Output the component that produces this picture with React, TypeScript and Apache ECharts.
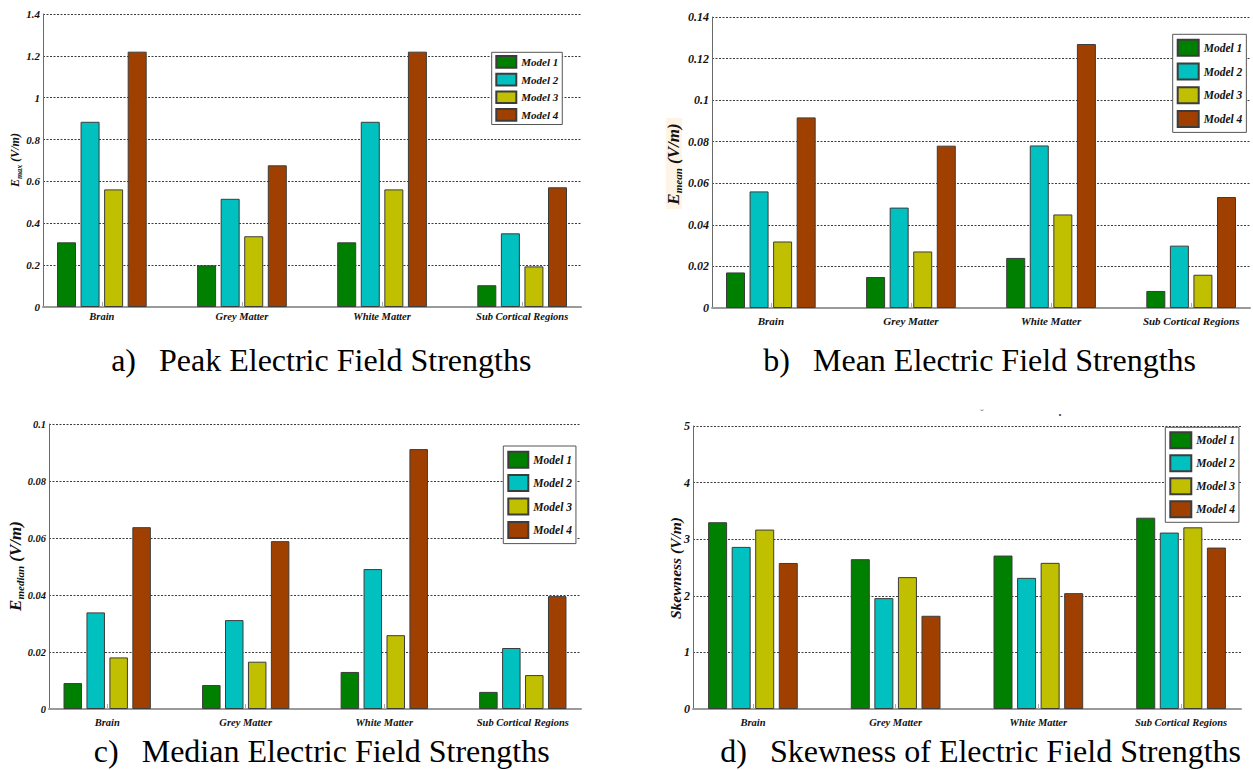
import React, { useEffect, useRef } from "react";
import * as echarts from "echarts";

// ---------- DATA ----------
const categories = ["Brain", "Grey Matter", "White Matter", "Sub Cortical Regions"];
const models = ["Model 1", "Model 2", "Model 3", "Model 4"];
const modelColors = ["#008000", "#00C0C0", "#C0C000", "#A04000"];

// a) Peak electric field strengths (V/m)
const peakModel1 = [0.309, 0.199, 0.309, 0.104];
const peakModel2 = [0.885, 0.517, 0.885, 0.352];
const peakModel3 = [0.562, 0.338, 0.562, 0.194];
const peakModel4 = [1.22, 0.677, 1.22, 0.572];

// b) Mean electric field strengths (V/m)
const meanModel1 = [0.0171, 0.0149, 0.0241, 0.0082];
const meanModel2 = [0.0561, 0.0483, 0.0782, 0.03];
const meanModel3 = [0.032, 0.0272, 0.045, 0.016];
const meanModel4 = [0.0917, 0.0781, 0.127, 0.0534];

// c) Median electric field strengths (V/m)
const medianModel1 = [0.0091, 0.0084, 0.013, 0.006];
const medianModel2 = [0.0339, 0.0312, 0.0491, 0.0214];
const medianModel3 = [0.0181, 0.0166, 0.0259, 0.0119];
const medianModel4 = [0.0638, 0.0589, 0.0912, 0.0396];

// d) Skewness of electric field strengths
const skewModel1 = [3.3, 2.647, 2.711, 3.38];
const skewModel2 = [2.864, 1.959, 2.317, 3.117];
const skewModel3 = [3.17, 2.33, 2.582, 3.21];
const skewModel4 = [2.58, 1.647, 2.047, 2.852];

// y-axis ranges: [min, max, interval]
const peakAxis = [0, 1.4, 0.2];
const meanAxis = [0, 0.14, 0.02];
const medianAxis = [0, 0.1, 0.02];
const skewAxis = [0, 5, 1];

const captionLabels = ["a)", "b)", "c)", "d)"];
const captionTitles = [
  "Peak Electric Field Strengths",
  "Mean Electric Field Strengths",
  "Median Electric Field Strengths",
  "Skewness of Electric Field Strengths",
];

// ---------- LAYOUT ----------
const SERIF = "'Liberation Serif', 'Times New Roman', serif";

const panels = [
  {
    values: [peakModel1, peakModel2, peakModel3, peakModel4],
    axis: peakAxis,
    grid: { left: 43, top: 14, width: 538, height: 293 },
    barWidth: 19,
    yLabelSize: 11,
    catSize: 10.5,
    catMargin: 4,
    legend: { left: 491.7, top: 52.3, itemWidth: 20, itemHeight: 11.7, itemGap: 4, padding: [2.7, 4, 2.7, 3.6], fontSize: 11 },
    yTitle: { x: 15, y: 160, big: 12, small: 8, sub: "max", main: "E" },
    caption: { x: 159, y: 360 },
  },
  {
    values: [meanModel1, meanModel2, meanModel3, meanModel4],
    axis: meanAxis,
    grid: { left: 712, top: 17, width: 538, height: 291 },
    barWidth: 19,
    yLabelSize: 12,
    catSize: 11,
    catMargin: 7.5,
    legend: { left: 1172.7, top: 34.3, itemWidth: 21, itemHeight: 16, itemGap: 5.7, padding: [4.5, 4, 4.5, 4], fontSize: 11.5 },
    yTitle: { x: 673, y: 164, big: 17, small: 11, sub: "mean", main: "E" },
    caption: { x: 813, y: 360 },
  },
  {
    values: [medianModel1, medianModel2, medianModel3, medianModel4],
    axis: medianAxis,
    grid: { left: 49, top: 424, width: 532, height: 285 },
    barWidth: 18.5,
    yLabelSize: 10.5,
    catSize: 10.5,
    catMargin: 7.5,
    legend: { left: 503.3, top: 446, itemWidth: 20, itemHeight: 16, itemGap: 5.4, padding: [4.7, 4, 4.7, 4], fontSize: 11.5 },
    yTitle: { x: 15, y: 566, big: 17, small: 11, sub: "median", main: "E" },
    caption: { x: 141.7, y: 751 },
  },
  {
    values: [skewModel1, skewModel2, skewModel3, skewModel4],
    axis: skewAxis,
    grid: { left: 693, top: 426, width: 548, height: 283 },
    barWidth: 19,
    yLabelSize: 12,
    catSize: 10.5,
    catMargin: 7.5,
    legend: { left: 1165.3, top: 427.3, itemWidth: 21, itemHeight: 16, itemGap: 5, padding: [4, 4, 4, 4], fontSize: 11.5 },
    yTitle: { x: 675, y: 568, big: 15.5, small: 0, sub: "", main: "Skewness" },
    caption: { x: 770, y: 751 },
  },
];

function buildOption() {
  const grids: any[] = [];
  const xAxes: any[] = [];
  const yAxes: any[] = [];
  const series: any[] = [];
  const legends: any[] = [];
  const graphics: any[] = [];
  const catValues = categories.map((_, i) => i + 1);

  panels.forEach((p, pi) => {
    grids.push({ ...p.grid, containLabel: false });
    xAxes.push({
      type: "value",
      gridIndex: pi,
      min: 0.58,
      max: 4.42,
      splitLine: { show: false },
      axisLine: { show: true, lineStyle: { color: "#9a9a9a", width: 2 } },
      axisTick: {
        show: true,
        inside: true,
        length: 5,
        customValues: catValues,
        lineStyle: { color: "#aaaaaa", width: 1 },
      },
      axisLabel: {
        customValues: catValues,
        formatter: (v: number) => categories[Math.round(v) - 1] ?? "",
        fontFamily: SERIF,
        fontStyle: "italic",
        fontWeight: "bold",
        fontSize: p.catSize,
        color: "#111",
        margin: p.catMargin,
      },
    });
    yAxes.push({
      type: "value",
      gridIndex: pi,
      min: p.axis[0],
      max: p.axis[1],
      interval: p.axis[2],
      axisLine: { show: true, lineStyle: { color: "#6a6a6a", width: 1 } },
      axisTick: { show: false },
      splitLine: { show: true, lineStyle: { color: "#3a3a3a", width: 1, type: [2, 1.5] } },
      axisLabel: {
        fontFamily: SERIF,
        fontStyle: "italic",
        fontWeight: "bold",
        fontSize: p.yLabelSize,
        color: "#111",
        margin: 3,
      },
    });
    p.values.forEach((vals, mi) => {
      series.push({
        type: "bar",
        name: models[mi],
        xAxisIndex: pi,
        yAxisIndex: pi,
        data: vals.map((v, i) => [i + 1, v]),
        barWidth: p.barWidth,
        barGap: "24%",
        itemStyle: { color: modelColors[mi], borderColor: "#3c3c3c", borderWidth: 1 },
        emphasis: { disabled: true },
        silent: true,
      });
    });
    legends.push({
      data: models,
      orient: "vertical",
      left: p.legend.left,
      top: p.legend.top,
      itemWidth: p.legend.itemWidth,
      itemHeight: p.legend.itemHeight,
      itemGap: p.legend.itemGap,
      padding: p.legend.padding,
      icon: "rect",
      selectedMode: false,
      backgroundColor: "#ffffff",
      borderColor: "#555555",
      borderWidth: 1,
      borderRadius: 0,
      textStyle: {
        fontFamily: SERIF,
        fontStyle: "italic",
        fontWeight: "bold",
        fontSize: p.legend.fontSize,
        color: "#111",
      },
    });

    // y-axis title
    const t = p.yTitle;
    const baseFont = { fontFamily: SERIF, fontStyle: "italic", fontWeight: "bold", fill: "#111" };
    const text = t.sub ? `{e|${t.main}}{s|${t.sub}}{u| (V/m)}` : `{e|${t.main}}{u| (V/m)}`;
    graphics.push({
      type: "text",
      x: t.x,
      y: t.y,
      rotation: Math.PI / 2,
      z: 10,
      style: {
        text,
        ...baseFont,
        fontSize: t.big,
        textAlign: "center",
        textVerticalAlign: "middle",
        rich: {
          e: { ...baseFont, fontSize: t.big, lineHeight: t.big + 4, verticalAlign: "middle" },
          s: { ...baseFont, fontSize: t.small || 8, lineHeight: t.small || 8, verticalAlign: "bottom" },
          u: { ...baseFont, fontSize: t.big, lineHeight: t.big + 4, verticalAlign: "middle" },
        },
      },
    });

    // caption
    graphics.push({
      type: "text",
      x: p.caption.x - 23,
      y: p.caption.y,
      style: {
        text: captionLabels[pi],
        fontFamily: SERIF,
        fontSize: 32,
        fill: "#000",
        textAlign: "right",
        textVerticalAlign: "middle",
      },
    });
    graphics.push({
      type: "text",
      x: p.caption.x,
      y: p.caption.y,
      style: {
        text: captionTitles[pi],
        fontFamily: SERIF,
        fontSize: 32,
        fill: "#000",
        textAlign: "left",
        textVerticalAlign: "middle",
      },
    });
  });

  // faint background behind panel b's axis title, as in the scan
  graphics.unshift({
    type: "rect",
    shape: { x: 666, y: 118, width: 16, height: 91 },
    style: { fill: "#fdf4e6" },
    z: 1,
  });
  // small scan artefacts above panel d
  graphics.push({
    type: "text",
    x: 982,
    y: 413,
    style: { text: "˘", fontFamily: SERIF, fontSize: 10, fill: "#555", textAlign: "center", textVerticalAlign: "middle" },
  });
  graphics.push({
    type: "text",
    x: 1060,
    y: 412,
    style: { text: ".", fontFamily: SERIF, fontSize: 12, fontWeight: "bold", fill: "#333", textAlign: "center", textVerticalAlign: "middle" },
  });

  return {
    animation: false,
    backgroundColor: "#ffffff",
    grid: grids,
    xAxis: xAxes,
    yAxis: yAxes,
    legend: legends,
    series,
    graphic: graphics,
  };
}

export default function App() {
  const ref = useRef<HTMLDivElement>(null);
  useEffect(() => {
    if (!ref.current) return;
    const chart = echarts.init(ref.current, undefined, { renderer: "svg" });
    chart.setOption(buildOption() as any);
    return () => chart.dispose();
  }, []);
  return (
    <div
      ref={ref}
      style={{ position: "absolute", left: 0, top: 0, width: 1253, height: 770, background: "#fff" }}
    />
  );
}
